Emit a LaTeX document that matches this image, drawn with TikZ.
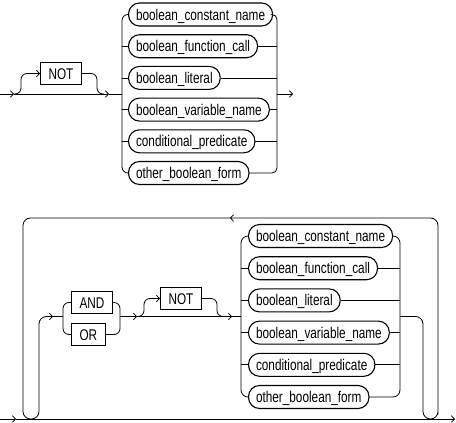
\documentclass[tikz,border=0pt]{standalone}
\usepackage{fontspec}
\setmainfont{Liberation Sans}[FakeStretch=0.76]
\usetikzlibrary{arrows.meta}

\tikzset{
  rail/.style={draw=black, line width=0.8pt},
  railarr/.style={rail, -{Straight Barb[length=3pt,width=6.5pt]}},
  kwbox/.style={draw, line width=1.1pt, anchor=west, inner xsep=8pt, inner ysep=0pt,
    minimum height=22pt, text height=12pt, text depth=1pt, font=\fontsize{15.5pt}{17pt}\selectfont},
  ntbox/.style={draw, line width=1.1pt, anchor=west, rounded corners=11pt, inner xsep=7.5pt, inner ysep=0pt,
    minimum height=23pt, text height=12pt, text depth=1pt, font=\fontsize{15.5pt}{17pt}\selectfont}
}

\begin{document}
\begin{tikzpicture}[x=1pt,y=1pt,yscale=-1,xscale=1]
		% Set the page to the size of the reference
		\useasboundingbox (0,0) rectangle (456,423);

		% ---------- upper diagram ----------
		% Junctions of the upper diagram
		\coordinate (inA) at (0,94);
		\coordinate (chevA) at (14,94);
		\coordinate (barAl) at (122,94);
		\coordinate (barAr) at (277,94);
		\coordinate (outA) at (293,94);

		% Optional NOT
		\node[kwbox] (notA) at (40,73.5) {NOT};

		% The six choices
		\foreach \txt [count=\i] in {boolean\_constant\_name, boolean\_function\_call, boolean\_literal,
		  boolean\_variable\_name, conditional\_predicate, other\_boolean\_form}
		  \node[ntbox] (up\i) at (128,{14.5+31.7*(\i-1)}) {\txt};

		% Main line with its chevrons
		\draw[railarr] (inA) -- (chevA);
		\draw[railarr] (chevA) -- (109,94);
		\draw[rail] (109,94) -- (barAl);

		% Way over NOT
		\draw[railarr, rounded corners=6pt] (chevA) -| (21,73.5) -- (notA.west);
		\draw[rail, rounded corners=6pt] (notA.east) -| (97,94) -- (104,94);

		% Left and right bars of the choice
		\draw[rail, rounded corners=6pt] (up1.west) -| (barAl) |- (up6.west);
		\draw[rail, rounded corners=5pt] (up1.east) -| (barAr) |- (up6.east);
		\foreach \i in {2,...,5} {
		  \draw[rail] (up\i.west -| barAl) -- (up\i.west);
		  \draw[rail] (up\i.east) -- (up\i.east -| barAr);
		}

		% Exit
		\draw[railarr] (barAr) -- (outA);

		% ---------- lower diagram ----------
		% Junctions of the lower diagram
		\coordinate (inB) at (0,419);
		\coordinate (chevB) at (16,419);
		\coordinate (outB) at (455,419);
		\coordinate (loopL) at (23,218);
		\coordinate (loopR) at (438,218);
		\coordinate (chevLoop) at (230,218);
		\coordinate (chevB1) at (53,316.5);
		\coordinate (barBl) at (63,316.5);
		\coordinate (barBr) at (120,316.5);
		\coordinate (chevB2) at (137,316.5);
		\coordinate (chevB3) at (232,316.5);
		\coordinate (barCl) at (241,316.5);
		\coordinate (barCr) at (400,316.5);

		% AND / OR and optional NOT
		\node[kwbox] (andB) at (71,302.5) {AND};
		\node[kwbox] (orB) at (71,334.5) {OR};
		\node[kwbox] (notB) at (160,298.5) {NOT};

		% The six choices
		\foreach \txt [count=\i] in {boolean\_constant\_name, boolean\_function\_call, boolean\_literal,
		  boolean\_variable\_name, conditional\_predicate, other\_boolean\_form}
		  \node[ntbox] (lo\i) at (248,{236+32.2*(\i-1)}) {\txt};

		% Bottom line
		\draw[railarr] (inB) -- (chevB);
		\draw[railarr] (chevB) -- (outB);

		% Exit of the choice, U turns and the loop back
		\draw[railarr, rounded corners=7.5pt] (barCr) -| (423,419) -| (loopR |- inB) -- (loopR) -- (chevLoop);
		\draw[railarr, rounded corners=7.5pt] (chevLoop) -- (loopL) -- (loopL |- inB) -| (39,316.5) -- (chevB1);
		\draw[rail] (chevB1) -- (barBl);

		% AND / OR bars
		\draw[rail, rounded corners=6pt] (andB.west) -| (barBl) |- (orB.west);
		\draw[rail, rounded corners=6pt] (andB.east) -| (barBr) |- (orB.east);

		% Main line of the loop
		\draw[railarr] (barBr) -- (chevB2);
		\draw[railarr] (chevB2) -- (chevB3);
		\draw[rail] (chevB3) -- (barCl);

		% Way over NOT
		\draw[railarr, rounded corners=6pt] (chevB2) -| (144,298.5) -- (notB.west);
		\draw[rail, rounded corners=6pt] (notB.east) -| (217,316.5) -- (224,316.5);

		% Left and right bars of the choice
		\draw[rail, rounded corners=7pt] (lo1.west) -| (barCl) |- (lo6.west);
		\draw[rail, rounded corners=7pt] (lo1.east) -| (barCr) |- (lo6.east);
		\foreach \i in {2,...,5} {
		  \draw[rail] (lo\i.west -| barCl) -- (lo\i.west);
		  \draw[rail] (lo\i.east) -- (lo\i.east -| barCr);
		}
	\end{tikzpicture}
\end{document}
